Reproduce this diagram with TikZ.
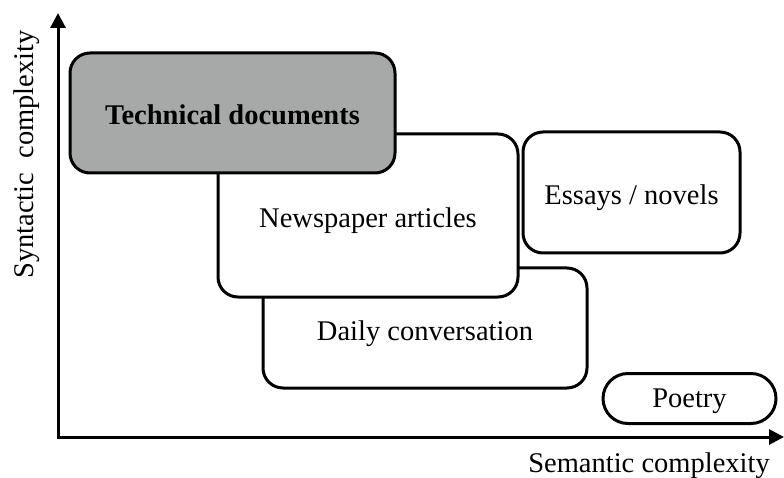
\documentclass[tikz,border=0pt]{standalone}
\usepackage{fontspec}
\setmainfont{Liberation Serif}
\usetikzlibrary{arrows.meta}
\definecolor{techgray}{RGB}{166,169,168}
\begin{document}
\begin{tikzpicture}[x=1pt,y=-1pt,
    genre/.style={draw=black, line width=3pt, fill=white, rectangle,
      rounded corners=20pt, inner sep=0pt, align=center,
      text height=24pt, text depth=0pt,
      font=\fontsize{28.5}{33}\selectfont},
    axis/.style={line width=3pt, -{Triangle[length=15pt,width=15pt]}},
    axislabel/.style={font=\fontsize{28.5}{33}\selectfont, inner sep=0pt}]
  \useasboundingbox (0,0) rectangle (784,478);

  % axes
  \coordinate (O) at (58,437);
  \coordinate (ytip) at (58,13);
  \coordinate (xtip) at (784,437);
  \draw[axis] (O) -- (ytip);
  \draw[axis] ([xshift=-1.5pt]O) -- (xtip);

  \node[axislabel, rotate=90, anchor=base] (ylab) at (33,154.5) {Syntactic\ \ complexity};
  \node[axislabel, anchor=base] (xlab) at (649,472) {Semantic complexity};

  % genre regions, back to front
  \node[genre, minimum width=324pt, minimum height=120pt] (daily) at (425,328) {Daily conversation};
  \node[genre, minimum width=300pt, minimum height=163pt] (news) at (368,215.5) {Newspaper articles};
  \node[genre, fill=techgray, minimum width=325pt, minimum height=120pt] (tech) at (232.5,113) {\bfseries Technical documents};
  \node[genre, minimum width=217pt, minimum height=121pt] (essay) at (631.5,192.5) {Essays / novels};
  \node[genre, rounded corners=25pt, text height=18pt, minimum width=173pt, minimum height=50pt] (poetry) at (689.5,398.5) {Poetry};
\end{tikzpicture}
\end{document}
